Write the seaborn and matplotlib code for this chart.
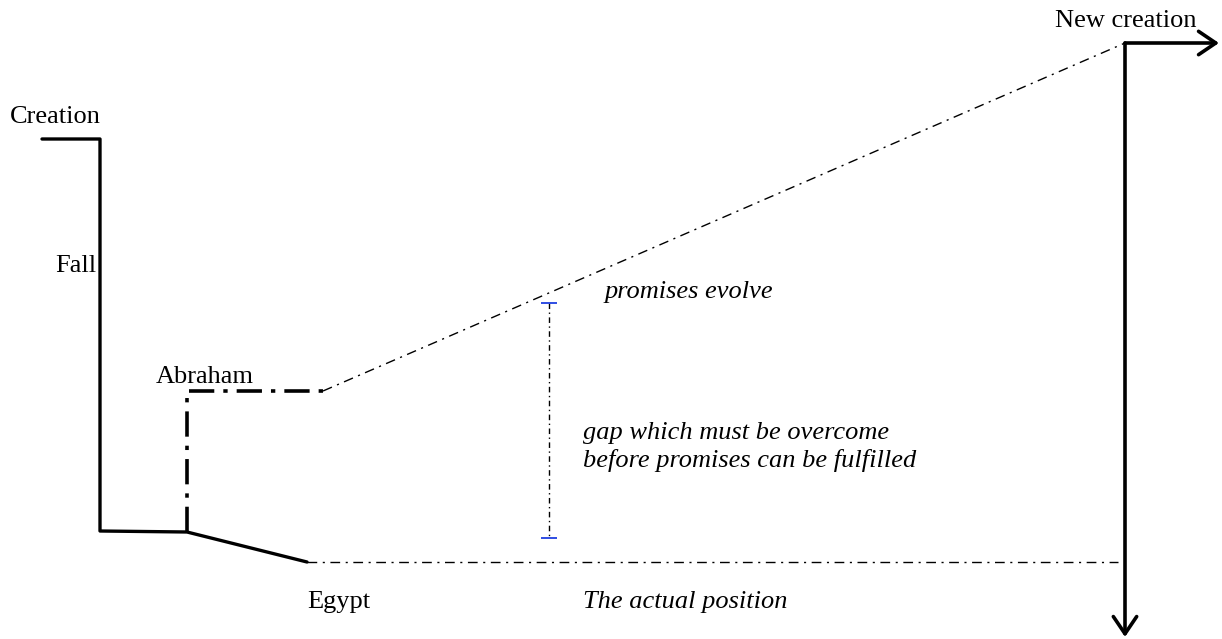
import numpy as np
import pandas as pd
import matplotlib
matplotlib.use('Agg')
import matplotlib.pyplot as plt
import seaborn as sns

# path points (x, y) of the diagram, y grows downwards
fall_x = [42, 100, 100, 187, 307]
fall_y = [139, 139, 531, 532, 562]

abraham_x = [187, 187, 323]
abraham_y = [532, 391, 391]

promise_x = [323, 1125]
promise_y = [391, 43]

actual_x = [307, 1118]
actual_y = [562, 562]

gap_x = 549
gap_top = 303
gap_bottom = 538

new_x = [1125, 1219]
new_y = [43, 43]
down_y = [43, 637]

labels = ['Creation', 'Fall', 'Abraham', 'Egypt', 'New creation']
label_x = [10, 55, 156, 307, 1055]
label_y = [123, 272, 383, 608, 27]

notes = ['promises evolve', 'gap which must be overcome',
         'before promises can be fulfilled', 'The actual position']
note_x = [605, 583, 583, 583]
note_y = [298, 439, 467, 608]

sns.set_theme(style='white')
plt.rcParams['font.family'] = ['Liberation Serif', 'DejaVu Serif']
plt.rcParams['text.color'] = 'black'

fig = plt.figure(figsize=(12.22, 6.39), dpi=100)
ax = fig.add_axes([0, 0, 1, 1])

fall = pd.DataFrame({'x': fall_x, 'y': fall_y})
sns.lineplot(data=fall, x='x', y='y', sort=False, estimator=None, color='black',
             lw=2.4, ax=ax)
ab = pd.DataFrame({'x': abraham_x, 'y': abraham_y})
sns.lineplot(data=ab, x='x', y='y', sort=False, estimator=None, color='black',
             lw=2.6, ax=ax, linestyle=(0, (7, 2.5, 1.2, 2.5)))
pr = pd.DataFrame({'x': promise_x, 'y': promise_y})
sns.lineplot(data=pr, x='x', y='y', sort=False, estimator=None, color='black',
             lw=1.0, ax=ax, linestyle=(0, (7, 4, 1.5, 4)))
ac = pd.DataFrame({'x': actual_x, 'y': actual_y})
sns.lineplot(data=ac, x='x', y='y', sort=False, estimator=None, color='black',
             lw=1.0, ax=ax, linestyle=(0, (7, 4, 1.5, 4)))

# gap between promise and actual position
ax.plot([gap_x, gap_x], [gap_top, gap_bottom], color='black', lw=1.0,
        linestyle=(0, (4, 2.5, 1, 2.5)))
ax.hlines([gap_top, gap_bottom], gap_x - 8, gap_x + 8, color='#1f3fe0', lw=1.3)

# arrows at new creation
arrow = dict(arrowstyle='->,head_length=0.62,head_width=0.42', lw=2.6,
             color='black', shrinkA=0, shrinkB=0, mutation_scale=20)
ax.annotate('', xy=(new_x[1], new_y[1]), xytext=(new_x[0], new_y[0]), arrowprops=arrow)
ax.annotate('', xy=(new_x[0], down_y[1]), xytext=(new_x[0], down_y[0]), arrowprops=arrow)

for t, x, y in zip(labels, label_x, label_y):
    ax.text(x, y, t, fontsize=19, ha='left', va='baseline', color='black')
for t, x, y in zip(notes, note_x, note_y):
    ax.text(x, y, t, fontsize=19, ha='left', va='baseline', style='italic',
            color='black')

ax.set_xlim(0, 1222)
ax.set_ylim(639, 0)
ax.axis('off')

fig.savefig('out.png', dpi=100)
